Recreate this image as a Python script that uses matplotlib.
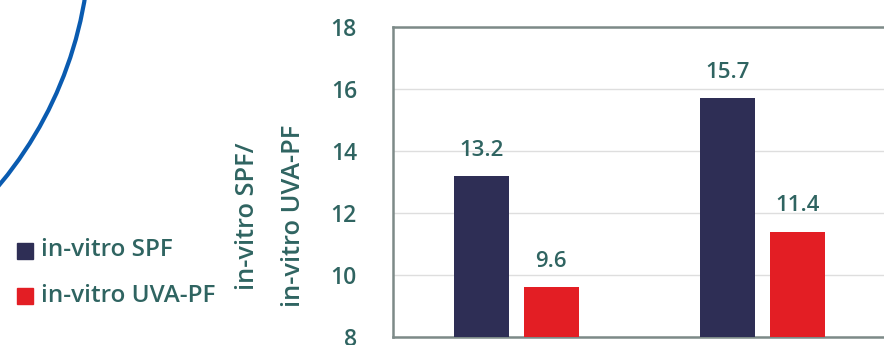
import matplotlib
matplotlib.use("Agg")
import matplotlib.pyplot as plt
from matplotlib.patches import Rectangle, Circle
import numpy as np

# ---- data ----
groups = ["A", "B"]
series_names = ["in-vitro SPF", "in-vitro UVA-PF"]
spf = [13.2, 15.7]
uvapf = [9.6, 11.4]
y_ticks = [8, 10, 12, 14, 16, 18]
ylabel_lines = ["in-vitro SPF/", "in-vitro UVA-PF"]

colors = ["#2e2e55", "#e31e24"]
text_color = "#2f6461"
spine_color = "#7d8a88"
font = "Open Sans"

W, H = 884, 345
fig = plt.figure(figsize=(W / 100, H / 100), dpi=100)

ax = fig.add_axes([393 / W, 8 / H, 1 - 393 / W, (337 - 27) / H])
x = np.arange(len(groups))
bw = 0.223
off = 0.142
b1 = ax.bar(x - off, spf, bw, bottom=0, color=colors[0], zorder=3)
b2 = ax.bar(x + off, uvapf, bw, bottom=0, color=colors[1], zorder=3)
ax.set_ylim(8, 18)
ax.set_xlim(-0.5, (W - 516.5) / 246.5)
ax.set_yticks(y_ticks)
ax.set_xticks([])
ax.tick_params(axis="y", length=0, pad=26, labelsize=16.5, labelcolor=text_color)
for lab in ax.get_yticklabels():
    lab.set_fontfamily(font)
    lab.set_fontweight("semibold")
ax.grid(axis="y", color="#dedede", linewidth=1.0, zorder=0)
for s in ["left", "top", "bottom"]:
    ax.spines[s].set_color(spine_color)
    ax.spines[s].set_linewidth(1.8)
ax.spines["right"].set_visible(False)

for bars, vals in [(b1, spf), (b2, uvapf)]:
    for r, v in zip(bars, vals):
        ax.annotate(f"{v:.1f}", (r.get_x() + r.get_width() / 2, v),
                    xytext=(0, 11), textcoords="offset points",
                    ha="center", va="bottom", fontsize=16,
                    color=text_color, family=font, fontweight="semibold")

# legend (manual)
leg_y = [250.5, 296]
for name, c, yy in zip(series_names, colors, leg_y):
    fig.add_artist(Rectangle((17 / W, (H - yy - 8) / H), 16 / W, 16 / H,
                             transform=fig.transFigure, color=c))
    fig.text(41 / W, (H - yy) / H, name, ha="left", va="center",
             fontsize=17.5, color=text_color, family=font, fontweight="semibold")

# y label as two rotated lines
for txt, xx in zip(ylabel_lines, [247, 293]):
    fig.text(xx / W, (H - 216) / H, txt, rotation=90, ha="center", va="center",
             fontsize=18.3, color=text_color, family=font, fontweight="semibold")

# decorative arc
circ = Circle((-300, H + 65), 390, transform=None, fill=False,
              edgecolor="#0a5bb0", linewidth=3.0)
fig.add_artist(circ)

fig.savefig("out.png", dpi=100)
